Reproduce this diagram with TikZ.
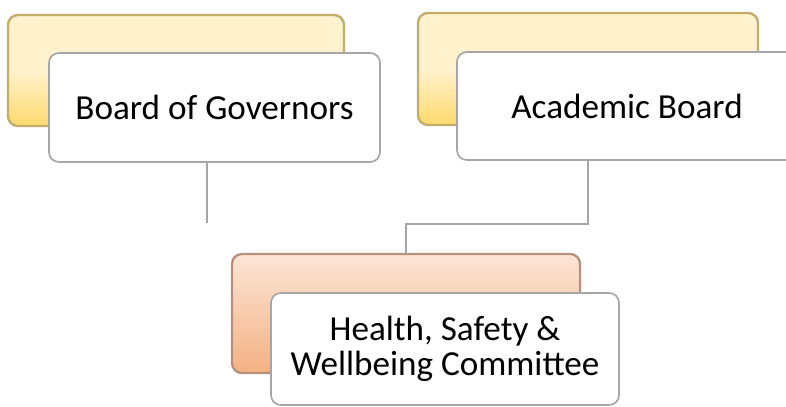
\documentclass[tikz,border=0pt]{standalone}
\usepackage{fontspec}
\setmainfont{Carlito}
\usetikzlibrary{positioning}
\definecolor{mgold}{RGB}{214,178,64}
\definecolor{myellowtop}{RGB}{255,242,204}
\definecolor{myellowbot}{RGB}{255,217,110}
\definecolor{mpeach}{RGB}{251,229,214}
\definecolor{morange}{RGB}{244,177,131}
\definecolor{mbrown}{RGB}{196,132,96}
\definecolor{mgray}{RGB}{166,166,166}
\tikzset{%
    backbox/.style = {rectangle, rounded corners=7pt, minimum width=#1,
                      draw=mgray, double distance=0.8pt, line width=0.45pt},
    yellowbox/.style = {backbox=8.4cm, minimum height=2.775cm, double=mgold,
                        top color=myellowtop, bottom color=myellowbot,
                        middle color=myellowtop},
    orangebox/.style = {backbox=8.7cm, minimum height=2.975cm, double=mbrown,
                        top color=mpeach, bottom color=morange},
    frontbox/.style = {rectangle, rounded corners=7pt, draw=mgray, fill=white,
                       line width=1.2pt, align=center,
                       font=\fontsize{25}{25}\selectfont},
    link/.style = {draw=mgray, line width=1.1pt}
    }
\begin{document}
\begin{tikzpicture}
\useasboundingbox (0,0) rectangle (19.65,10.15);
\clip (0,0) rectangle (19.65,10.15);
% board of governors
\node [yellowbox] (bogbk) at (4.4,8.3875) {};
\node [frontbox, minimum width=8.275cm, minimum height=2.725cm]
      (bog) at ([xshift=0.9625cm,yshift=-0.925cm]bogbk.center) {Board of Governors};
% academic board
\node [yellowbox, minimum width=8.5cm, minimum height=2.8cm] (abbk) at (14.7,8.425) {};
\node [frontbox, minimum width=8.5cm, minimum height=2.7cm]
      (ab) at ([xshift=0.975cm,yshift=-0.925cm]abbk.center) {Academic Board};
% committee
\node [orangebox] (hsbk) at (10.15,2.3125) {};
\node [frontbox, minimum width=8.7cm, minimum height=2.8cm]
      (hs) at ([xshift=0.975cm,yshift=-0.8875cm]hsbk.center) {Health, Safety \&\\Wellbeing Committee};
% connectors
\coordinate [below=1.5cm of bog.south, xshift=-0.19cm] (bogend);
\path [link] ([xshift=-0.19cm]bog.south) -- (bogend);
\path [link] (abbk.south |- ab.south) -- ++(0,-1.575) -| (hsbk.north);
\end{tikzpicture}
\end{document}
